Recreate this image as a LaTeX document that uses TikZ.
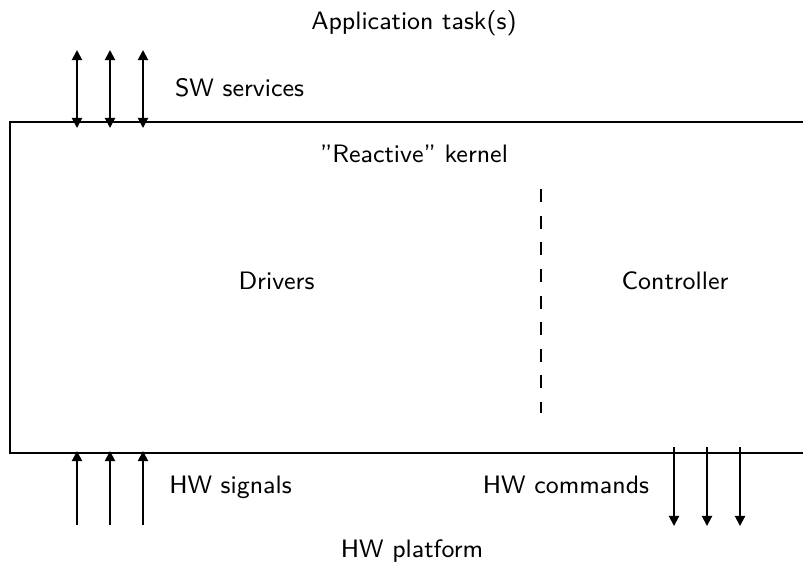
\documentclass[tikz,border=0pt]{standalone}
\usetikzlibrary{arrows.meta}
\begin{document}
\begin{tikzpicture}[x=0.35305pt,y=-0.35305pt,font=\sffamily\fontsize{8.9}{10.5}\selectfont,line width=0.7pt,
  tipb/.style={-{Triangle[length=3.6pt,width=3.6pt]}},
  tipbb/.style={{Triangle[length=3.6pt,width=3.6pt]}-{Triangle[length=3.6pt,width=3.6pt]}},
  lbl/.style={inner sep=0pt,anchor=base}]
\useasboundingbox (0,0) rectangle (803,566);
\clip (0,0) rectangle (803,566);
% kernel box (right edge off the picture)
\coordinate (tr) at (830,122);
\coordinate (tl) at (10,122);
\coordinate (bl) at (10,453);
\coordinate (br) at (830,453);
\draw (tr) -- (tl) -- (bl) -- (br);
% dashed separator
\coordinate (d1) at (541,189);
\coordinate (d2) at (541,413);
\draw[dash pattern=on 4.6pt off 4.8pt] (d1) -- (d2);
% SW service and HW signal arrows
\foreach \i/\x in {1/77,2/110,3/143}{
  \coordinate (s\i a) at (\x,50);
  \coordinate (s\i b) at (\x,128);
  \draw[tipbb] (s\i a) -- (s\i b);
  \coordinate (h\i a) at (\x,525);
  \coordinate (h\i b) at (\x,451);
  \draw[tipb] (h\i a) -- (h\i b);
}
% HW command arrows
\foreach \i/\x in {1/674,2/707,3/740}{
  \coordinate (c\i a) at (\x,447);
  \coordinate (c\i b) at (\x,526);
  \draw[tipb] (c\i a) -- (c\i b);
}
% labels
\node[lbl] (app) at (414,29) {Application task(s)};
\node[lbl] (sw) at (239.5,96) {SW services};
\node[lbl] (kern) at (414,162) {\textquotedblright Reactive\textquotedblright\ kernel};
\node[lbl] (drv) at (276.5,289) {Drivers};
\node[lbl] (ctl) at (675,289) {Controller};
\node[lbl] (hws) at (230.5,493) {HW signals};
\node[lbl] (hwc) at (566,493) {HW commands};
\node[lbl] (hwp) at (412,557) {HW platform};
\end{tikzpicture}
\end{document}
